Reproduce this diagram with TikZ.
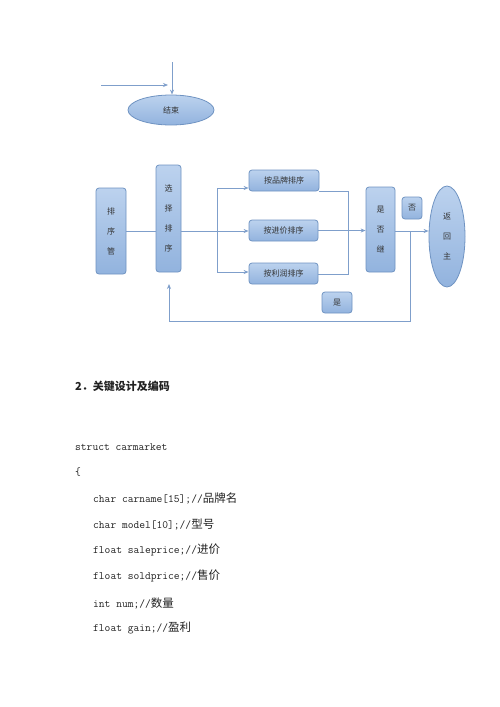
\documentclass[tikz,border=0pt]{standalone}
\usepackage{fontspec}
\newfontfamily\cjk{Noto Sans CJK SC}
\usetikzlibrary{shapes.geometric,arrows.meta}
\newcommand\czh[1]{{\cjk\fontsize{11.5}{12}\selectfont #1}}
\definecolor{bline}{HTML}{7F9FCB}
\definecolor{bdraw}{HTML}{6F93C2}
\definecolor{btop}{HTML}{BCD2EE}
\definecolor{bbot}{HTML}{92B3DE}
\definecolor{txt}{HTML}{333333}
\definecolor{ctxt}{HTML}{222222}
\tikzset{
  conn/.style={draw=bline, line width=0.9pt},
  arr/.style={conn, -{Stealth[length=5pt,width=4pt]}},
  flowbox/.style={draw=bdraw, line width=0.8pt, rounded corners=3pt, top color=btop, bottom color=bbot,
    inner sep=0pt, text=txt, font=\cjk\fontsize{8}{20}\selectfont, align=center},
  flowell/.style={flowbox, ellipse, rounded corners=0pt},
  codeline/.style={anchor=west, inner sep=0pt, text=ctxt, font=\ttfamily\fontsize{11.2}{12}\selectfont}
}
\begin{document}
\begin{tikzpicture}[x=1pt,y=-1pt]
\useasboundingbox[fill=white] (0,0) rectangle (500,707);
% top fragment
\node[flowell, minimum width=86pt, minimum height=30pt] (end) at (171,110) {结束};
\coordinate (h0) at (101,85);
\coordinate (h1) at (168,85);
\coordinate (v0) at (172,62);
\draw[arr] (h0) -- (h1);
\draw[arr] (v0) -- (v0 |- end.north);
% boxes
\node[flowbox, minimum width=30pt, minimum height=86pt] (pxg) at (111,231) {排\\序\\管};
\node[flowbox, minimum width=25pt, minimum height=107pt] (xzpx) at (168.5,218.5) {选\\择\\排\\序};
\node[flowbox, minimum width=70pt, minimum height=21pt] (bp1) at (284,180.5) {按品牌排序};
\node[flowbox, minimum width=69pt, minimum height=21pt] (bp2) at (283.5,230.5) {按进价排序};
\node[flowbox, minimum width=69pt, minimum height=21pt] (bp3) at (283.5,273.5) {按利润排序};
\node[flowbox, minimum width=29pt, minimum height=85pt] (sfj) at (380.5,229.5) {是\\否\\继};
\node[flowbox, minimum width=20pt, minimum height=22pt] (fou) at (412,208) {否};
\node[flowell, minimum width=36pt, minimum height=101pt] (fhz) at (447,236.5) {返\\回\\主};
\node[flowbox, minimum width=30pt, minimum height=21pt] (shi) at (337,302.5) {是};
% connectors
\draw[conn] (pxg.east) -- (pxg.east -| xzpx.west);
\coordinate (br) at (217,231);
\draw[arr] (xzpx.east |- br) -- (br -| bp2.west);
\coordinate (brt) at (217,188);
\coordinate (brb) at (217,272);
\draw[arr] (brt) -- (brt -| bp1.west);
\draw[conn] (brt) -- (brb);
\draw[arr] (brb) -- (brb -| bp3.west);
\coordinate (jr) at (348,274);
\draw[conn] ([yshift=-11pt]bp1.east) -| (jr) -- (jr -| bp3.east);
\draw[arr] (bp2.east) -- (bp2.east -| sfj.west);
\coordinate (mid) at (395,231);
\draw[arr] (sfj.east |- mid) -- (mid -| fhz.west);
\coordinate (lp) at (410,321);
\coordinate (tip) at (169,284);
\draw[arr] (lp |- mid) -- (lp) -| (tip);
% text below
\node[anchor=west, inner sep=0pt, text=ctxt, font=\cjk\bfseries\fontsize{11}{12}\selectfont] (head) at (75,386) {2．关键设计及编码};
\node[codeline] (c0) at (75,447) {struct carmarket};
\node[codeline] (c1) at (75,472) {\{};
\node[codeline] (c2) at (93,498) {char carname[15];//\czh{品牌名}};
\node[codeline] (c3) at (93,524) {char model[10];//\czh{型号}};
\node[codeline] (c4) at (93,550) {float saleprice;//\czh{进价}};
\node[codeline] (c5) at (93,576) {float soldprice;//\czh{售价}};
\node[codeline] (c6) at (93,603) {int num;//\czh{数量}};
\node[codeline] (c7) at (93,628) {float gain;//\czh{盈利}};
\end{tikzpicture}
\end{document}
